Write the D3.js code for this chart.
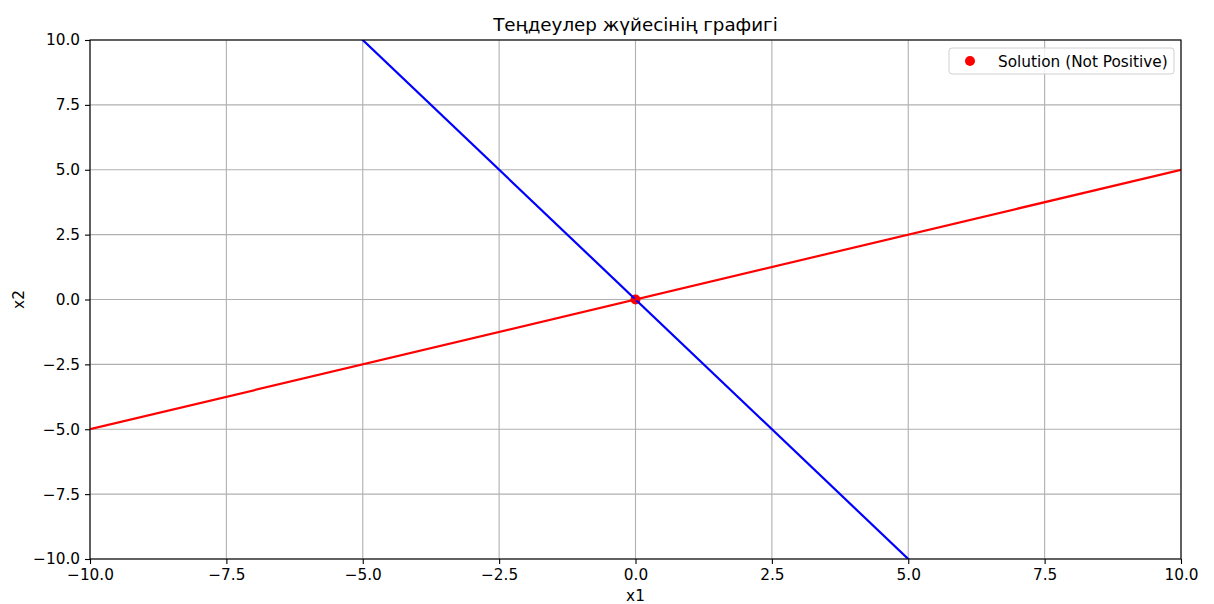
<!DOCTYPE html>
<html><head><meta charset="utf-8">
<script src="https://cdn.jsdelivr.net/npm/d3@7"></script>
<style>
body{margin:0;background:#fff;}
svg{font-family:"DejaVu Sans",sans-serif;}
</style></head>
<body><svg id="c" width="1214" height="604"></svg>
<script>
const xTicks = [-10, -7.5, -5, -2.5, 0, 2.5, 5, 7.5, 10];
const yTicks = [-10, -7.5, -5, -2.5, 0, 2.5, 5, 7.5, 10];
const x1Values = [-10, 10];
const line1Values = [20, -20];   // blue: x2 = -2*x1
const line2Values = [-5, 5];     // red: x2 = 0.5*x1
const solution = [{x1: 0, x2: 0}];
const title = "Теңдеулер жүйесінің графигі";
const legendLabel = "Solution (Not Positive)";

const svg = d3.select("#c");
const L = 90, R = 1181, T = 40, B = 559;
const FS = 15.3;
const x = d3.scaleLinear().domain([-10, 10]).range([L, R]);
const y = d3.scaleLinear().domain([-10, 10]).range([B, T]);
const fmt = d => d3.format(".1f")(d).replace("-", "\u2212");

svg.append("defs").append("clipPath").attr("id","clip")
  .append("rect").attr("x",L).attr("y",T).attr("width",R-L).attr("height",B-T);

// grid
const g = svg.append("g");
g.selectAll(".gx").data(xTicks).join("line")
  .attr("x1", d=>x(d)).attr("x2", d=>x(d)).attr("y1", T).attr("y2", B)
  .attr("stroke", "#b0b0b0").attr("stroke-width", 1.1);
g.selectAll(".gy").data(yTicks).join("line")
  .attr("y1", d=>y(d)).attr("y2", d=>y(d)).attr("x1", L).attr("x2", R)
  .attr("stroke", "#b0b0b0").attr("stroke-width", 1.1);

// solution point (below lines)
const plot = svg.append("g").attr("clip-path","url(#clip)");
plot.selectAll("circle").data(solution).join("circle")
  .attr("cx", d=>x(d.x1)).attr("cy", d=>y(d.x2)).attr("r", 5).attr("fill", "#ff0000");

const pts1 = x1Values.map((v,i)=>[v, line1Values[i]]);
const pts2 = x1Values.map((v,i)=>[v, line2Values[i]]);
const line = d3.line().x(d=>x(d[0])).y(d=>y(d[1]));
plot.append("path").attr("d", line(pts1)).attr("fill","none").attr("stroke","#0000ff").attr("stroke-width",2.2);
plot.append("path").attr("d", line(pts2)).attr("fill","none").attr("stroke","#ff0000").attr("stroke-width",2.2);

// axes
const xa = svg.append("g").attr("transform", `translate(0,${B})`)
  .call(d3.axisBottom(x).tickValues(xTicks).tickFormat(fmt).tickSize(5).tickPadding(5));
const ya = svg.append("g").attr("transform", `translate(${L},0)`)
  .call(d3.axisLeft(y).tickValues(yTicks).tickFormat(fmt).tickSize(5).tickPadding(5));
[xa, ya].forEach(a => {
  a.attr("font-size", FS).attr("font-family", "DejaVu Sans");
  a.select(".domain").remove();
  a.selectAll("text").attr("font-size", FS).attr("fill", "#000");
  a.selectAll("line").attr("stroke", "#000").attr("stroke-width", 1.1);
});
svg.append("rect").attr("x", L).attr("y", T).attr("width", R-L).attr("height", B-T)
  .attr("fill","none").attr("stroke","#000").attr("stroke-width",1.1);

// labels
svg.append("text").attr("x", (L+R)/2).attr("y", 31).attr("text-anchor","middle")
  .attr("font-size", 18.3).text(title);
svg.append("text").attr("x", (L+R)/2).attr("y", 601).attr("text-anchor","middle")
  .attr("font-size", FS).text("x1");
svg.append("text").attr("transform", `translate(24,${(T+B)/2}) rotate(-90)`).attr("text-anchor","middle")
  .attr("font-size", FS).text("x2");

// legend
const lg = svg.append("g");
lg.append("rect").attr("x", 949).attr("y", 48).attr("width", 225).attr("height", 26).attr("rx", 3)
  .attr("fill", "rgba(255,255,255,0.8)").attr("stroke", "#d0d0d0").attr("stroke-width", 1);
lg.append("circle").attr("cx", 970).attr("cy", 61).attr("r", 5).attr("fill", "#ff0000");
lg.append("text").attr("x", 998).attr("y", 66.5).attr("font-size", FS).text(legendLabel);
</script></body></html>
